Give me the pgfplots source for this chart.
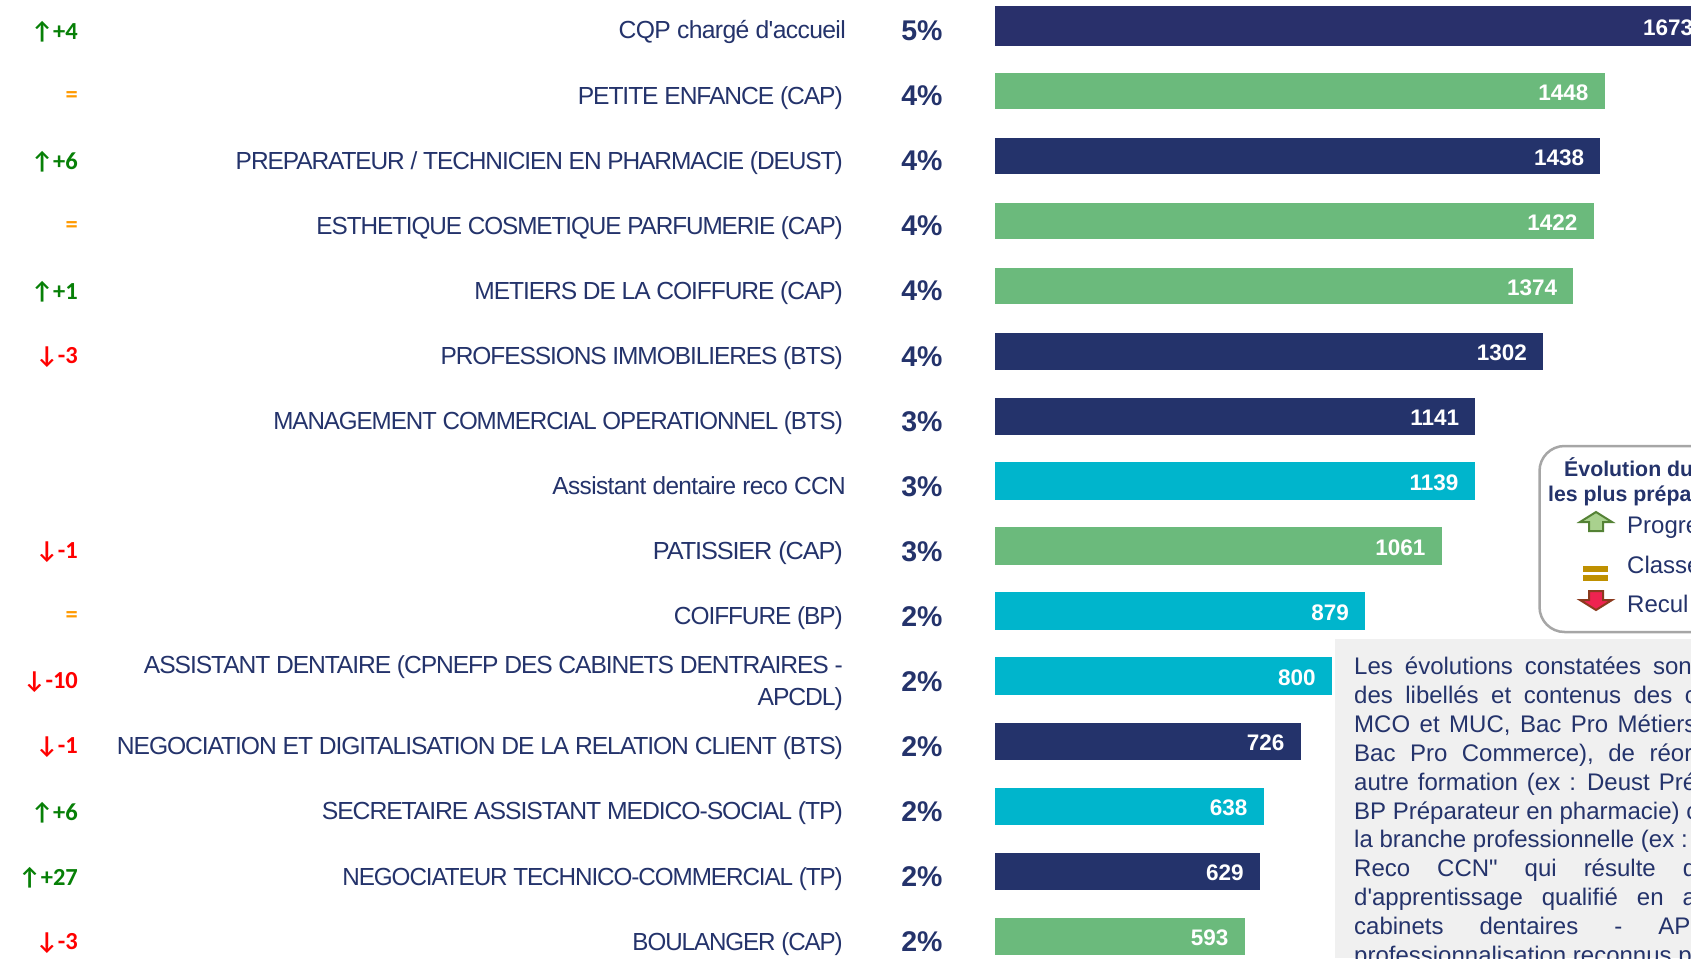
\documentclass[border=0pt]{standalone}
\usepackage{fontspec}
\usepackage{graphicx}
\usepackage{pgfplots}
\pgfplotsset{compat=1.18}
\setmainfont{Liberation Sans}
\newfontfamily\carl{Carlito}
\newfontfamily\tightU[LetterSpace=-4.4]{Liberation Sans}
\newfontfamily\tightL[LetterSpace=-2.6]{Liberation Sans}
\newfontfamily\plainf{Liberation Sans}
\definecolor{navy}{HTML}{24336B}
\definecolor{navyb}{HTML}{29306B}
\definecolor{vert}{HTML}{6BBA7C}
\definecolor{cyanb}{HTML}{00B5CC}
\definecolor{evup}{HTML}{078007}
\definecolor{eveq}{HTML}{FF9900}
\definecolor{evdn}{HTML}{FF0000}
\definecolor{arup}{HTML}{A9D18E}
\definecolor{arupb}{HTML}{548235}
\definecolor{ardn}{HTML}{EE2350}
\definecolor{ardnb}{HTML}{8B3A1E}
\definecolor{eqb}{HTML}{BF9000}
\definecolor{notebg}{HTML}{F0F0F0}
\definecolor{legb}{HTML}{A6A6A6}
\newcommand{\lab}{\tightU\fontsize{24.7}{32}\selectfont}
\newcommand{\note}{\plainf\fontsize{24}{29}\selectfont}
\newcommand{\wl}[2]{\resizebox{#1pt}{\height}{#2}}
\newcommand{\up}[1]{\textcolor{evup}{↑#1}}
\newcommand{\dn}[1]{\textcolor{evdn}{↓#1}}
\newcommand{\eq}{\textcolor{eveq}{=}}
\begin{document}
\begin{tikzpicture}[x=1pt,y=1pt,
  pct/.style={font=\bfseries\fontsize{28.5}{30}\selectfont,text=navy,inner sep=0pt,yshift=-5pt},
  evo/.style={font=\carl\bfseries\fontsize{24.5}{25}\selectfont,anchor=east,inner sep=0pt,yshift=-6pt},
  nl/.style={font=\note,text=navy,anchor=base west,inner sep=0pt}]
\useasboundingbox (0,-958) rectangle (1691,0);
\begin{axis}[at={(995pt,-958pt)},anchor=south west,scale only axis,
  width=696pt,height=958pt,clip=false,
  xmin=0,xmax=1653.2,ymin=0.6011,ymax=15.328,y dir=reverse,
  hide x axis,axis y line*=left,axis line style={draw=none},
  ytick={1,...,15},ytick style={draw=none},tick align=outside,major tick length=0pt,
  typeset ticklabels with strut,
  yticklabels={{\raisebox{1pt}{\tightL CQP chargé d'accueil}\hspace*{-3pt}},\wl{265}{PETITE ENFANCE (CAP)},\wl{607}{PREPARATEUR / TECHNICIEN EN PHARMACIE (DEUST)},\wl{526.3}{ESTHETIQUE COSMETIQUE PARFUMERIE (CAP)},\wl{368.3}{METIERS DE LA COIFFURE (CAP)},\wl{402.2}{PROFESSIONS IMMOBILIERES (BTS)},\wl{569.4}{MANAGEMENT COMMERCIAL OPERATIONNEL (BTS)},{\wl{293.3}{\tightL Assistant dentaire reco CCN}\hspace*{-3pt}},\wl{189.8}{PATISSIER (CAP)},\wl{168.8}{COIFFURE (BP)},{\raisebox{2.5pt}{\begin{tabular}{@{}r@{}}\wl{698.8}{ASSISTANT DENTAIRE (CPNEFP DES CABINETS DENTRAIRES -}\\APCDL)\end{tabular}}},\wl{725.8}{NEGOCIATION ET DIGITALISATION DE LA RELATION CLIENT (BTS)},\wl{520.9}{SECRETAIRE ASSISTANT MEDICO-SOCIAL (TP)},\wl{500.4}{NEGOCIATEUR TECHNICO-COMMERCIAL (TP)},\wl{210.3}{BOULANGER (CAP)}},
  yticklabel style={font=\lab,text=navy,anchor=east,align=right,inner sep=0pt,xshift=-152pt,yshift=-7pt},
  /pgf/number format/1000 sep={},/pgf/number format/assume math mode=true,
  every axis plot/.append style={xbar,bar shift=0pt,draw=none,point meta=x,
    nodes near coords,
    every node near coord/.append style={anchor=east,xshift=-16pt,yshift=-1.5pt,inner sep=0pt,text=white,font=\bfseries\fontsize{22.5}{24}\selectfont}},
]
\addplot[fill=navyb,bar width=39.3pt,every node near coord/.append style={xshift=10pt}] coordinates {(1673,1)};
\addplot[fill=vert,bar width=36.6pt] coordinates {(1448,2)};
\addplot[fill=navy,bar width=36.6pt] coordinates {(1438,3)};
\addplot[fill=vert,bar width=36.6pt] coordinates {(1422,4)};
\addplot[fill=vert,bar width=36.6pt] coordinates {(1374,5)};
\addplot[fill=navy,bar width=36.6pt] coordinates {(1302,6)};
\addplot[fill=navy,bar width=36.6pt] coordinates {(1141,7)};
\addplot[fill=cyanb,bar width=38pt] coordinates {(1139,8)};
\addplot[fill=vert,bar width=38pt] coordinates {(1061,9)};
\addplot[fill=cyanb,bar width=38pt] coordinates {(879,10)};
\addplot[fill=cyanb,bar width=38pt] coordinates {(800,11)};
\addplot[fill=navy,bar width=36.6pt] coordinates {(726,12)};
\addplot[fill=cyanb,bar width=36.6pt] coordinates {(638,13)};
\addplot[fill=navy,bar width=36.6pt] coordinates {(629,14)};
\addplot[fill=vert,bar width=36.6pt] coordinates {(593,15)};
\node[pct] at (axis cs:-173.4,1) {5\%};
\node[pct] at (axis cs:-173.4,2) {4\%};
\node[pct] at (axis cs:-173.4,3) {4\%};
\node[pct] at (axis cs:-173.4,4) {4\%};
\node[pct] at (axis cs:-173.4,5) {4\%};
\node[pct] at (axis cs:-173.4,6) {4\%};
\node[pct] at (axis cs:-173.4,7) {3\%};
\node[pct] at (axis cs:-173.4,8) {3\%};
\node[pct] at (axis cs:-173.4,9) {3\%};
\node[pct] at (axis cs:-173.4,10) {2\%};
\node[pct] at (axis cs:-173.4,11) {2\%};
\node[pct] at (axis cs:-173.4,12) {2\%};
\node[pct] at (axis cs:-173.4,13) {2\%};
\node[pct] at (axis cs:-173.4,14) {2\%};
\node[pct] at (axis cs:-173.4,15) {2\%};
\node[evo] at (axis cs:-2178,1) {\up{+4}};
\node[evo] at (axis cs:-2178,2) {\eq};
\node[evo] at (axis cs:-2178,3) {\up{+6}};
\node[evo] at (axis cs:-2178,4) {\eq};
\node[evo] at (axis cs:-2178,5) {\up{+1}};
\node[evo] at (axis cs:-2178,6) {\dn{-3}};
\node[evo] at (axis cs:-2178,9) {\dn{-1}};
\node[evo] at (axis cs:-2178,10) {\eq};
\node[evo] at (axis cs:-2178,11) {\dn{-10}};
\node[evo] at (axis cs:-2178,12) {\dn{-1}};
\node[evo] at (axis cs:-2178,13) {\up{+6}};
\node[evo] at (axis cs:-2178,14) {\up{+27}};
\node[evo] at (axis cs:-2178,15) {\dn{-3}};
\end{axis}
% legend box
\draw[draw=legb,line width=2.5pt,fill=white,rounded corners=25pt] (1539.5,-446) rectangle (1760,-632);
\node[anchor=base west,inner sep=0pt,text=navy,font=\bfseries\fontsize{21.3}{22}\selectfont] at (1564,-476) {Évolution du};
\node[anchor=base west,inner sep=0pt,text=navy,font=\bfseries\fontsize{21.3}{22}\selectfont] at (1548,-501) {les plus prépa};
\node[nl] at (1627,-533) {Progre};
\node[nl] at (1627,-573) {Classe};
\node[nl] at (1627,-612) {Recul};
\draw[draw=arupb,fill=arup,line width=2pt,line join=miter]
 (1580,-522) -- (1596,-512) -- (1612,-522) -- (1603,-522) -- (1603,-531) -- (1589,-531) -- (1589,-522) -- cycle;
\fill[fill=eqb] (1583,-565.7) rectangle (1608,-571.7);
\fill[fill=eqb] (1583,-575) rectangle (1608,-581);
\draw[draw=ardnb,fill=ardn,line width=2pt,line join=miter]
 (1580,-600) -- (1596,-610) -- (1612,-600) -- (1603,-600) -- (1603,-591) -- (1589,-591) -- (1589,-600) -- cycle;
% note box
\fill[fill=notebg] (1335,-639) rectangle (1691,-958);
\node[nl] at (1354,-674.5)  {\spaceskip=12pt Les évolutions constatées son};
\node[nl] at (1354,-703.4)  {\spaceskip=12.5pt des libellés et contenus des c};
\node[nl] at (1354,-732.3)  {\spaceskip=9.5pt MCO et MUC, Bac Pro Métiers};
\node[nl] at (1354,-761.2)  {\spaceskip=14.5pt Bac Pro Commerce), de réor};
\node[nl] at (1354,-790.1)  {\spaceskip=9pt autre formation (ex : Deust Pré};
\node[nl] at (1354,-819)    {BP Préparateur en pharmacie) c};
\node[nl] at (1354,-847.9)  {la branche professionnelle (ex :};
\node[nl] at (1354,-876.8)  {\spaceskip=27pt Reco CCN" qui résulte d};
\node[nl] at (1354,-905.7)  {\spaceskip=19pt d'apprentissage qualifié en a};
\node[nl] at (1354,-934.6)  {\spaceskip=36pt cabinets dentaires - AP};
\node[nl] at (1354,-963.5)  {professionnalisation reconnus p};
\end{tikzpicture}
\end{document}
